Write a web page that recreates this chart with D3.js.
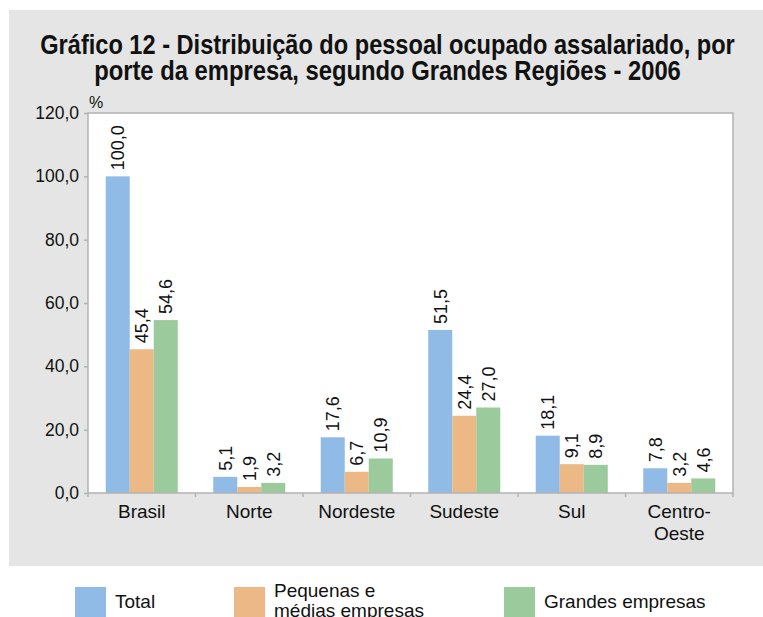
<!DOCTYPE html>
<html lang="pt">
<head>
<meta charset="utf-8">
<title>Gráfico 12</title>
<script src="https://d3js.org/d3.v7.min.js"></script>
<style>
  body { margin: 0; background: #fff; }
  svg text { font-family: "Liberation Sans", Arial, Helvetica, sans-serif; fill: #111; }
</style>
</head>
<body>
<script>
// data
var categories = ["Brasil", "Norte", "Nordeste", "Sudeste", "Sul", "Centro-Oeste"];
var catLabels = [["Brasil"], ["Norte"], ["Nordeste"], ["Sudeste"], ["Sul"], ["Centro-", "Oeste"]];
var seriesNames = ["Total", "Pequenas e médias empresas", "Grandes empresas"];
var total = [100.0, 5.1, 17.6, 51.5, 18.1, 7.8];
var pequenas = [45.4, 1.9, 6.7, 24.4, 9.1, 3.2];
var grandes = [54.6, 3.2, 10.9, 27.0, 8.9, 4.6];
var yTicks = [0, 20, 40, 60, 80, 100, 120];

var colors = ["#8fbbe6", "#ecb986", "#9bca9c"];
var series = [total, pequenas, grandes];

var W = 763, H = 617;
var plot = {left: 88, right: 733, top: 113, bottom: 493};

var fmt = function(v) { return d3.format(".1f")(v).replace(".", ","); };

var svg = d3.select("body").append("svg")
  .attr("width", W)
  .attr("height", H);

// gray panel
svg.append("rect")
  .attr("x", 9).attr("y", 10)
  .attr("width", W - 9).attr("height", 556)
  .attr("fill", "#e4e5e4");

// title: bold, squeezed horizontally to look like the condensed face
var title = ["Gráfico 12 - Distribuição do pessoal ocupado assalariado, por",
             "porte da empresa, segundo Grandes Regiões - 2006"];
var titleLen = [695, 587];
svg.selectAll("text.title")
  .data(title)
  .enter().append("text")
  .attr("class", "title")
  .attr("text-anchor", "middle")
  .attr("font-size", 26)
  .attr("font-weight", "bold")
  .text(function(d) { return d; })
  .attr("transform", function(d, i) {
    var sx = titleLen[i] / this.getComputedTextLength();
    return "translate(387.5," + (54 + i * 26) + ") scale(" + sx + ",1.04)";
  });

// plot background
svg.append("rect")
  .attr("x", plot.left).attr("y", plot.top)
  .attr("width", plot.right - plot.left).attr("height", plot.bottom - plot.top)
  .attr("fill", "#fff");

var x = d3.scaleBand()
  .domain(categories)
  .range([plot.left, plot.right])
  .paddingInner(0.33)
  .paddingOuter(0.165);

var xs = d3.scaleBand()
  .domain(d3.range(series.length))
  .range([0, x.bandwidth()]);

var y = d3.scaleLinear()
  .domain([0, 120])
  .range([plot.bottom, plot.top]);

// bars
var groups = svg.selectAll("g.series")
  .data(series)
  .enter().append("g")
  .attr("class", "series")
  .attr("fill", function(d, i) { return colors[i]; });

groups.each(function(vals, si) {
  var g = d3.select(this);
  g.selectAll("rect")
    .data(vals)
    .enter().append("rect")
    .attr("x", function(d, i) { return x(categories[i]) + xs(si); })
    .attr("y", function(d) { return y(d); })
    .attr("width", xs.bandwidth())
    .attr("height", function(d) { return y(0) - y(d); });

  g.selectAll("text")
    .data(vals)
    .enter().append("text")
    .attr("transform", function(d, i) {
      var cx = x(categories[i]) + xs(si) + xs.bandwidth() / 2;
      return "translate(" + cx + "," + (y(d) - 6) + ") rotate(-90)";
    })
    .attr("dy", "0.35em")
    .attr("font-size", 18)
    .attr("text-anchor", "start")
    .text(function(d) { return fmt(d); });
});

// frame
svg.append("rect")
  .attr("x", plot.left).attr("y", plot.top)
  .attr("width", plot.right - plot.left).attr("height", plot.bottom - plot.top)
  .attr("fill", "none")
  .attr("stroke", "#b3b3b3")
  .attr("stroke-width", 1.5);

// y axis
var yAxis = svg.append("g")
  .attr("transform", "translate(" + plot.left + ",0)")
  .call(d3.axisLeft(y).tickValues(yTicks).tickSize(4).tickPadding(5).tickFormat(fmt));
yAxis.select(".domain").remove();
yAxis.selectAll(".tick line").attr("stroke", "#b3b3b3").attr("stroke-width", 1.5);
yAxis.selectAll(".tick text")
  .attr("font-size", 17.5)
  .attr("font-family", "Liberation Sans, Arial, sans-serif")
  .attr("fill", "#111");

svg.append("text")
  .attr("x", plot.left + 1)
  .attr("y", 108)
  .attr("font-size", 16)
  .text("%");

// category separators on the x axis
var bounds = d3.range(categories.length + 1).map(function(i) {
  return plot.left + i * x.step();
});
svg.selectAll("line.sep")
  .data(bounds)
  .enter().append("line")
  .attr("class", "sep")
  .attr("x1", function(d) { return d; })
  .attr("x2", function(d) { return d; })
  .attr("y1", plot.bottom)
  .attr("y2", plot.bottom + 4)
  .attr("stroke", "#b3b3b3")
  .attr("stroke-width", 1.5);

// category labels
svg.selectAll("text.cat")
  .data(catLabels)
  .enter().append("text")
  .attr("class", "cat")
  .attr("x", function(d, i) { return x(categories[i]) + x.bandwidth() / 2; })
  .attr("y", 518)
  .attr("text-anchor", "middle")
  .attr("font-size", 19)
  .selectAll("tspan")
  .data(function(d) { return d; })
  .enter().append("tspan")
  .attr("x", function() { return d3.select(this.parentNode).attr("x"); })
  .attr("dy", function(d, i) { return i ? 22 : 0; })
  .text(function(d) { return d; });

// legend
var legendX = [75, 234, 504];
var legendLines = [["Total"], ["Pequenas e", "médias empresas"], ["Grandes empresas"]];
var leg = svg.selectAll("g.legend")
  .data(seriesNames)
  .enter().append("g")
  .attr("class", "legend")
  .attr("transform", function(d, i) { return "translate(" + legendX[i] + ",587)"; });

leg.append("rect")
  .attr("width", 31)
  .attr("height", 32)
  .attr("fill", function(d, i) { return colors[i]; });

leg.append("text")
  .attr("x", 40)
  .attr("font-size", 19)
  .each(function(d, i) {
    var lines = legendLines[i];
    var t = d3.select(this);
    t.selectAll("tspan")
      .data(lines)
      .enter().append("tspan")
      .attr("x", 40)
      .attr("y", function(s, j) { return lines.length > 1 ? 10 + j * 20 : 21; })
      .text(function(s) { return s; });
  });
</script>
</body>
</html>
